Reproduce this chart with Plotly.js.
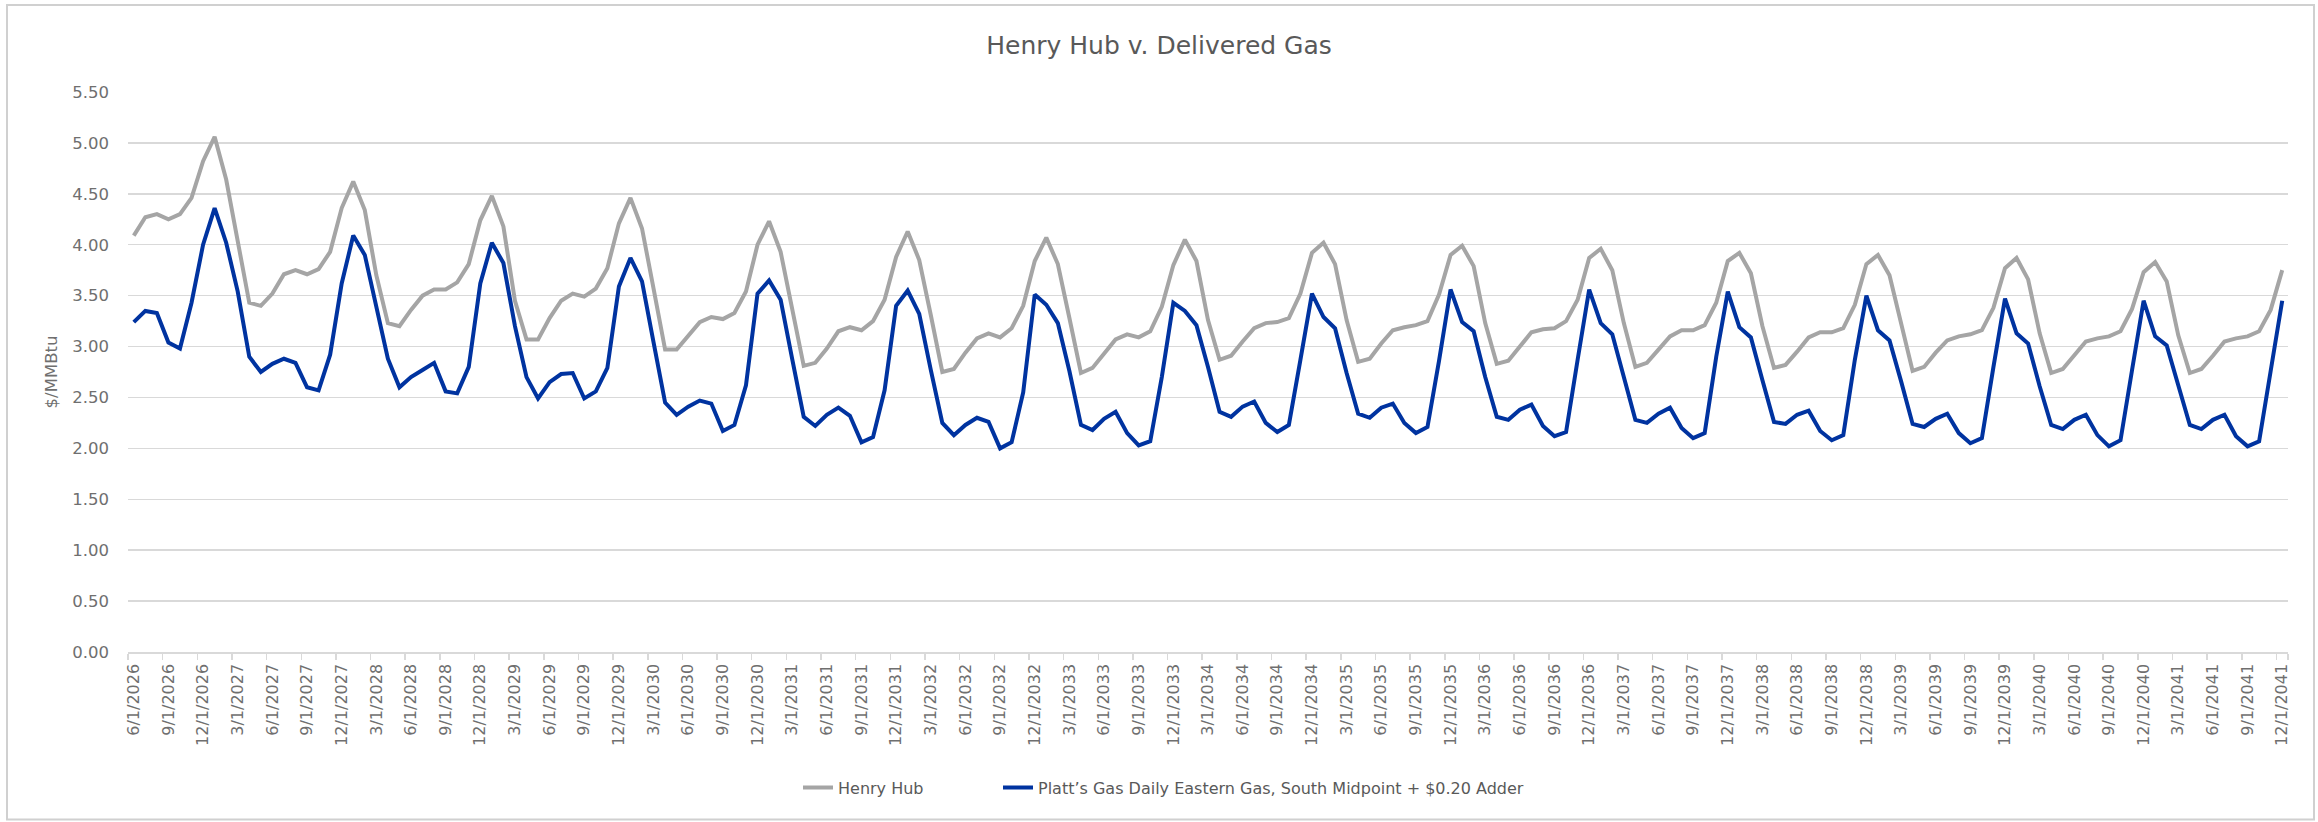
<!DOCTYPE html>
<html>
<head>
<meta charset="utf-8">
<script src="https://cdn.plot.ly/plotly-3.0.1.min.js"></script>
<style>html,body{margin:0;padding:0;background:#fff;}#chart{width:2318px;height:822px;}</style>
</head>
<body>
<div id="chart"></div>
<script>
// Monthly categories: 6/1/2026 ... 12/1/2041 (187 months)
const startYear = 2026, startMonth = 6, monthCount = 187;
const months = [];
for (let k = 0; k < monthCount; k++) {
  const m0 = startMonth - 1 + k;
  months.push(((m0 % 12) + 1) + "/1/" + (startYear + Math.floor(m0 / 12)));
}

// Henry Hub ($/MMBtu)
const henryHub = [
  4.09,4.27,4.30,4.25,4.30,4.46,4.82,5.06,4.64,4.02,3.43,3.40,
  3.52,3.71,3.75,3.71,3.76,3.93,4.36,4.62,4.34,3.70,3.23,3.20,
  3.36,3.50,3.56,3.56,3.63,3.81,4.24,4.48,4.18,3.45,3.07,3.07,
  3.28,3.45,3.52,3.49,3.57,3.77,4.21,4.46,4.16,3.57,2.97,2.97,
  3.10,3.24,3.29,3.27,3.33,3.54,4.00,4.23,3.93,3.36,2.81,2.84,
  2.98,3.15,3.19,3.16,3.25,3.46,3.88,4.13,3.85,3.31,2.75,2.78,
  2.94,3.08,3.13,3.09,3.18,3.40,3.84,4.07,3.81,3.28,2.74,2.79,
  2.93,3.07,3.12,3.09,3.15,3.39,3.80,4.05,3.84,3.26,2.87,2.91,
  3.05,3.18,3.23,3.24,3.28,3.52,3.92,4.02,3.81,3.26,2.85,2.88,
  3.03,3.16,3.19,3.21,3.25,3.51,3.90,3.99,3.79,3.23,2.83,2.86,
  3.00,3.14,3.17,3.18,3.25,3.46,3.87,3.96,3.75,3.23,2.80,2.84,
  2.97,3.10,3.16,3.16,3.21,3.43,3.84,3.92,3.72,3.20,2.79,2.82,
  2.95,3.09,3.14,3.14,3.18,3.41,3.81,3.90,3.70,3.22,2.76,2.80,
  2.94,3.06,3.10,3.12,3.16,3.38,3.77,3.87,3.66,3.13,2.74,2.78,
  2.92,3.05,3.08,3.10,3.15,3.37,3.73,3.83,3.64,3.11,2.74,2.78,
  2.91,3.05,3.08,3.10,3.15,3.36,3.75
];

// Platt's Gas Daily Eastern Gas, South Midpoint + $0.20 Adder ($/MMBtu)
const eastern = [
  3.24,3.35,3.33,3.04,2.98,3.43,4.00,4.36,4.02,3.54,2.90,2.75,
  2.83,2.88,2.84,2.60,2.57,2.92,3.62,4.09,3.90,3.39,2.88,2.60,
  2.70,2.77,2.84,2.56,2.54,2.80,3.62,4.02,3.82,3.20,2.70,2.49,
  2.65,2.73,2.74,2.49,2.56,2.79,3.59,3.87,3.64,3.04,2.45,2.33,
  2.41,2.47,2.44,2.17,2.23,2.62,3.52,3.65,3.46,2.88,2.31,2.22,
  2.33,2.40,2.32,2.06,2.11,2.57,3.40,3.55,3.32,2.77,2.25,2.13,
  2.23,2.30,2.26,2.00,2.06,2.55,3.51,3.41,3.23,2.76,2.23,2.18,
  2.29,2.36,2.15,2.03,2.07,2.70,3.43,3.35,3.21,2.80,2.36,2.31,
  2.41,2.46,2.25,2.16,2.23,2.87,3.52,3.29,3.18,2.74,2.34,2.30,
  2.40,2.44,2.25,2.15,2.21,2.86,3.56,3.24,3.15,2.70,2.31,2.28,
  2.38,2.43,2.22,2.12,2.16,2.87,3.56,3.23,3.12,2.70,2.28,2.25,
  2.34,2.40,2.20,2.10,2.15,2.90,3.54,3.19,3.09,2.67,2.26,2.24,
  2.33,2.37,2.17,2.08,2.13,2.87,3.50,3.16,3.06,2.66,2.24,2.21,
  2.29,2.34,2.15,2.05,2.10,2.80,3.47,3.13,3.03,2.61,2.23,2.19,
  2.28,2.33,2.13,2.02,2.08,2.77,3.45,3.10,3.01,2.62,2.23,2.19,
  2.28,2.33,2.12,2.02,2.07,2.76,3.45
];

// Quarterly tick labels shown on the x axis
const tickLabels = [
  "6/1/2026","9/1/2026","12/1/2026","3/1/2027","6/1/2027","9/1/2027","12/1/2027",
  "3/1/2028","6/1/2028","9/1/2028","12/1/2028","3/1/2029","6/1/2029","9/1/2029","12/1/2029",
  "3/1/2030","6/1/2030","9/1/2030","12/1/2030","3/1/2031","6/1/2031","9/1/2031","12/1/2031",
  "3/1/2032","6/1/2032","9/1/2032","12/1/2032","3/1/2033","6/1/2033","9/1/2033","12/1/2033",
  "3/1/2034","6/1/2034","9/1/2034","12/1/2034","3/1/2035","6/1/2035","9/1/2035","12/1/2035",
  "3/1/2036","6/1/2036","9/1/2036","12/1/2036","3/1/2037","6/1/2037","9/1/2037","12/1/2037",
  "3/1/2038","6/1/2038","9/1/2038","12/1/2038","3/1/2039","6/1/2039","9/1/2039","12/1/2039",
  "3/1/2040","6/1/2040","9/1/2040","12/1/2040","3/1/2041","6/1/2041","9/1/2041","12/1/2041"
];

const seriesNames = ["Henry Hub", "Platt\u2019s Gas Daily Eastern Gas, South Midpoint + $0.20 Adder"];
const seriesColors = ["#A5A5A5", "#0033A0"];

const FONT = "DejaVu Sans, Arial, sans-serif";
const gridCol = "#d9d9d9";

const traces = [
  {x: months, y: henryHub, type: "scatter", mode: "lines", name: seriesNames[0],
   line: {color: seriesColors[0], width: 4}, legend: "legend"},
  {x: months, y: eastern, type: "scatter", mode: "lines", name: seriesNames[1],
   line: {color: seriesColors[1], width: 4}, legend: "legend2"}
];

const legendFont = {family: FONT, size: 16, color: "#595959"};

const layout = {
  width: 2318, height: 822,
  margin: {l: 128, r: 30, t: 92, b: 170},
  paper_bgcolor: "#ffffff", plot_bgcolor: "#ffffff",
  font: {family: FONT, color: "#595959"},
  title: {text: "Henry Hub v. Delivered Gas", x: 0.5, xref: "container", xanchor: "center",
          y: 1 - 45/822, yref: "container", yanchor: "middle",
          font: {family: FONT, size: 25, color: "#595959"}},
  xaxis: {
    type: "category", range: [-0.5, monthCount - 0.5],
    tickmode: "array", tickvals: tickLabels, ticktext: tickLabels,
    tickangle: -90, tickson: "boundaries",
    ticks: "outside", ticklen: 6, tickwidth: 1.5, tickcolor: gridCol,
    showline: true, linecolor: gridCol, linewidth: 1.5,
    showgrid: false, zeroline: false,
    tickfont: {family: FONT, size: 16, color: "#6f6f6f"},
    ticklabelstandoff: 4, automargin: false
  },
  yaxis: {
    range: [0, 5.5], dtick: 0.5, tick0: 0, tickformat: ".2f",
    showgrid: true, gridcolor: gridCol, gridwidth: 1.5,
    zeroline: false, showline: false, ticks: "",
    tickfont: {family: FONT, size: 16.5, color: "#6f6f6f"},
    ticklabelstandoff: 18, automargin: false,
    title: {text: "$/MMBtu", standoff: 10, font: {family: FONT, size: 16.5, color: "#6f6f6f"}}
  },
  showlegend: true,
  legend: {orientation: "h", x: (798-128)/2160, xanchor: "left", y: -0.242, yanchor: "middle",
           font: legendFont, bgcolor: "rgba(0,0,0,0)"},
  legend2: {orientation: "h", x: (998-128)/2160, xanchor: "left", y: -0.242, yanchor: "middle",
           font: legendFont, bgcolor: "rgba(0,0,0,0)"},
  shapes: [{type: "rect", xref: "paper", yref: "paper",
            x0: (7-128)/2160, x1: (2314-128)/2160,
            y0: (651.6-819)/559.6, y1: (651.6-5)/559.6,
            line: {color: "#d0d0d0", width: 2}, fillcolor: "rgba(0,0,0,0)", layer: "below"}]
};

Plotly.newPlot("chart", traces, layout, {displayModeBar: false, staticPlot: true});
</script>
</body>
</html>
